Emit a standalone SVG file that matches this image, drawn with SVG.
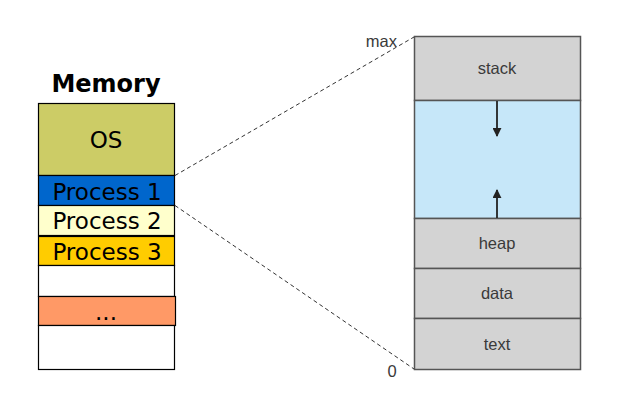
<svg xmlns="http://www.w3.org/2000/svg" width="620" height="400" viewBox="0 0 620 400">
<defs>
<style>
.mem{stroke:#000;stroke-width:1.2}
.ml{font-family:"DejaVu Sans",Verdana,sans-serif;font-size:23px;fill:#000;text-anchor:middle}
.seg{fill:#d3d3d3;stroke:#555;stroke-width:1.5}
.sl{font-family:"Liberation Sans",Arial,sans-serif;font-size:16.5px;fill:#3a3a3a;text-anchor:middle}
.dash{stroke:#333;stroke-width:1;stroke-dasharray:4,3;fill:none}
.arr{stroke:#222;stroke-width:1.8;fill:none}
</style>
<marker id="ah" viewBox="0 0 10 10" refX="9" refY="5" markerWidth="5" markerHeight="5" orient="auto">
<path d="M0,0 L10,5 L0,10 z" fill="#222"/>
</marker>
</defs>
<rect width="620" height="400" fill="#fff"/>
<text x="106" y="92" font-family="'DejaVu Sans',Verdana,sans-serif" font-size="24" font-weight="bold" text-anchor="middle">Memory</text>
<g id="mem-os"><rect class="mem" x="38.5" y="103.5" width="136" height="72" fill="#cccc66"/><text class="ml" x="106" y="148">OS</text></g>
<g id="mem-p1"><rect class="mem" x="38.5" y="175.5" width="136" height="30" fill="#0066cc"/><text class="ml" x="107" y="200">Process 1</text></g>
<g id="mem-p2"><rect class="mem" x="38.5" y="205.5" width="136" height="30" fill="#ffffcc"/><text class="ml" x="107" y="229">Process 2</text></g>
<g id="mem-p3"><rect class="mem" x="38.5" y="236.5" width="136" height="29" fill="#ffcc00"/><text class="ml" x="107" y="260">Process 3</text></g>
<g id="mem-free1"><rect class="mem" x="38.5" y="265.5" width="136" height="31" fill="#fff"/></g>
<g id="mem-dots"><rect class="mem" x="38.5" y="296.5" width="137" height="29" fill="#ff9966"/><text class="ml" x="106" y="320">...</text></g>
<g id="mem-free2"><rect class="mem" x="38.5" y="325.5" width="136" height="44" fill="#fff"/></g>
<g id="seg-stack"><rect class="seg" x="414.5" y="36.5" width="166" height="64"/><text class="sl" x="497" y="74">stack</text></g>
<g id="seg-free"><rect x="414.5" y="100.5" width="166" height="118" fill="#c6e7f9" stroke="#555" stroke-width="1.5"/></g>
<g id="seg-heap"><rect class="seg" x="414.5" y="218.5" width="166" height="50"/><text class="sl" x="497" y="249">heap</text></g>
<g id="seg-data"><rect class="seg" x="414.5" y="268.5" width="166" height="50"/><text class="sl" x="497" y="299">data</text></g>
<g id="seg-text"><rect class="seg" x="414.5" y="318.5" width="166" height="51"/><text class="sl" x="497" y="350">text</text></g>
<text class="sl" x="397" y="47" style="text-anchor:end">max</text>
<text class="sl" x="392" y="377">0</text>
<g id="connectors">
<line class="dash" x1="175" y1="175.5" x2="414" y2="37"/>
<line class="dash" x1="175" y1="205.5" x2="414" y2="369"/>
<line class="arr" x1="497" y1="101" x2="497" y2="136" marker-end="url(#ah)"/>
<line class="arr" x1="497" y1="218" x2="497" y2="190" marker-end="url(#ah)"/>
</g>
</svg>
